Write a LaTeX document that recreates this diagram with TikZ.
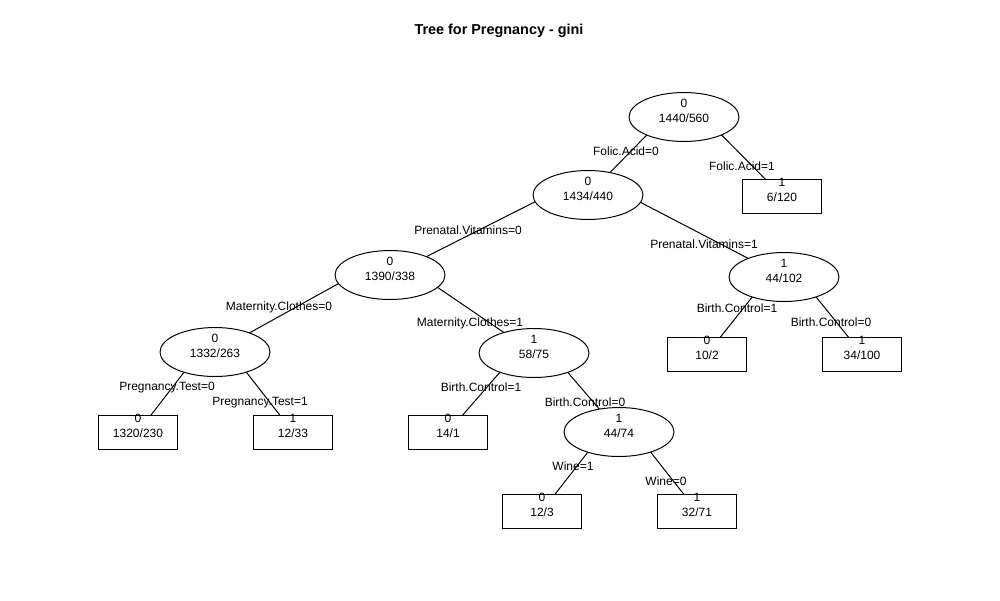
\documentclass[tikz,border=0pt]{standalone}
\usepackage{fontspec}
\setmainfont{Liberation Sans}
\usetikzlibrary{shapes.geometric, backgrounds}

\begin{document}
\begin{tikzpicture}[x=0.02cm, y=-0.02cm,
    every node/.style={font=\fontsize{6.83}{8.4}\selectfont},
    split/.style={ellipse, draw, fill=white, line width=0.02cm,
        minimum width=2.2cm, minimum height=0.98cm, inner sep=0pt,
        align=center, text height=0.35cm, text depth=0.138cm},
    leaf/.style={rectangle, draw, fill=white, line width=0.02cm,
        minimum width=1.58cm, minimum height=0.68cm, inner sep=0pt,
        align=center, text height=0.35cm, text depth=0.138cm},
    cut/.style={inner sep=0pt, text height=0.172cm, text depth=0pt},
    branch/.style={line width=0.02cm}]
    \useasboundingbox (0,0) rectangle (1000,600);

    % Title
    \node[font=\bfseries\fontsize{8.2}{10}\selectfont] (title) at (499,31) {Tree for Pregnancy - gini};

    % Inner nodes
    \node[split] (root) at (684,117) {0\\1440/560};
    \node[split] (noFolic) at (588,195) {0\\1434/440};
    \node[split] (noVit) at (390,275) {0\\1390/338};
    \node[split] (noClothes) at (215,352) {0\\1332/263};
    \node[split] (clothes) at (534,353) {1\\58/75};
    \node[split] (noBC) at (619,432) {1\\44/74};
    \node[split] (vit) at (784,277) {1\\44/102};

    % Leaves
    \node[leaf] (folic) at (782,196) {1\\6/120};
    \node[leaf] (noTest) at (138,432) {0\\1320/230};
    \node[leaf] (test) at (293,432) {1\\12/33};
    \node[leaf] (clothesBC) at (448,432) {0\\14/1};
    \node[leaf] (wine) at (542,511) {0\\12/3};
    \node[leaf] (noWine) at (697,511) {1\\32/71};
    \node[leaf] (vitBC) at (707,354) {0\\10/2};
    \node[leaf] (vitNoBC) at (862,354) {1\\34/100};

    % Branches
    \begin{scope}[on background layer]
        \fill[white] (0,0) rectangle (1000,600);
        \draw[branch] ([yshift=0.4cm]root.center) -- (noFolic.center);
        \draw[branch] ([yshift=0.4cm]root.center) -- (folic.center);
        \draw[branch] ([yshift=0.4cm]noFolic.center) -- (noVit.center);
        \draw[branch] ([yshift=0.4cm]noFolic.center) -- (vit.center);
        \draw[branch] ([yshift=0.4cm]noVit.center) -- (noClothes.center);
        \draw[branch] ([yshift=0.4cm]noVit.center) -- (clothes.center);
        \draw[branch] ([yshift=0.4cm]noClothes.center) -- (noTest.center);
        \draw[branch] ([yshift=0.4cm]noClothes.center) -- (test.center);
        \draw[branch] ([yshift=0.4cm]clothes.center) -- (clothesBC.center);
        \draw[branch] ([yshift=0.4cm]clothes.center) -- (noBC.center);
        \draw[branch] ([yshift=0.4cm]noBC.center) -- (wine.center);
        \draw[branch] ([yshift=0.4cm]noBC.center) -- (noWine.center);
        \draw[branch] ([yshift=0.4cm]vit.center) -- (vitBC.center);
        \draw[branch] ([yshift=0.4cm]vit.center) -- (vitNoBC.center);
    \end{scope}

    % Split labels
    \node[cut] (tFolic0) at (626,151) {Folic.Acid=0};
    \node[cut] (tFolic1) at (742,166) {Folic.Acid=1};
    \node[cut] (tVit0) at (468,230) {Prenatal.Vitamins=0};
    \node[cut] (tVit1) at (704,244) {Prenatal.Vitamins=1};
    \node[cut] (tClothes0) at (279,306) {Maternity.Clothes=0};
    \node[cut] (tClothes1) at (470,322) {Maternity.Clothes=1};
    \node[cut] (tTest0) at (167,386) {Pregnancy.Test=0};
    \node[cut] (tTest1) at (260,401) {Pregnancy.Test=1};
    \node[cut] (tBC1) at (481,387) {Birth.Control=1};
    \node[cut] (tBC0) at (585,402) {Birth.Control=0};
    \node[cut] (tWine1) at (573,466) {Wine=1};
    \node[cut] (tWine0) at (666,481) {Wine=0};
    \node[cut] (tVitBC1) at (737,308) {Birth.Control=1};
    \node[cut] (tVitBC0) at (831,322) {Birth.Control=0};
\end{tikzpicture}
\end{document}
